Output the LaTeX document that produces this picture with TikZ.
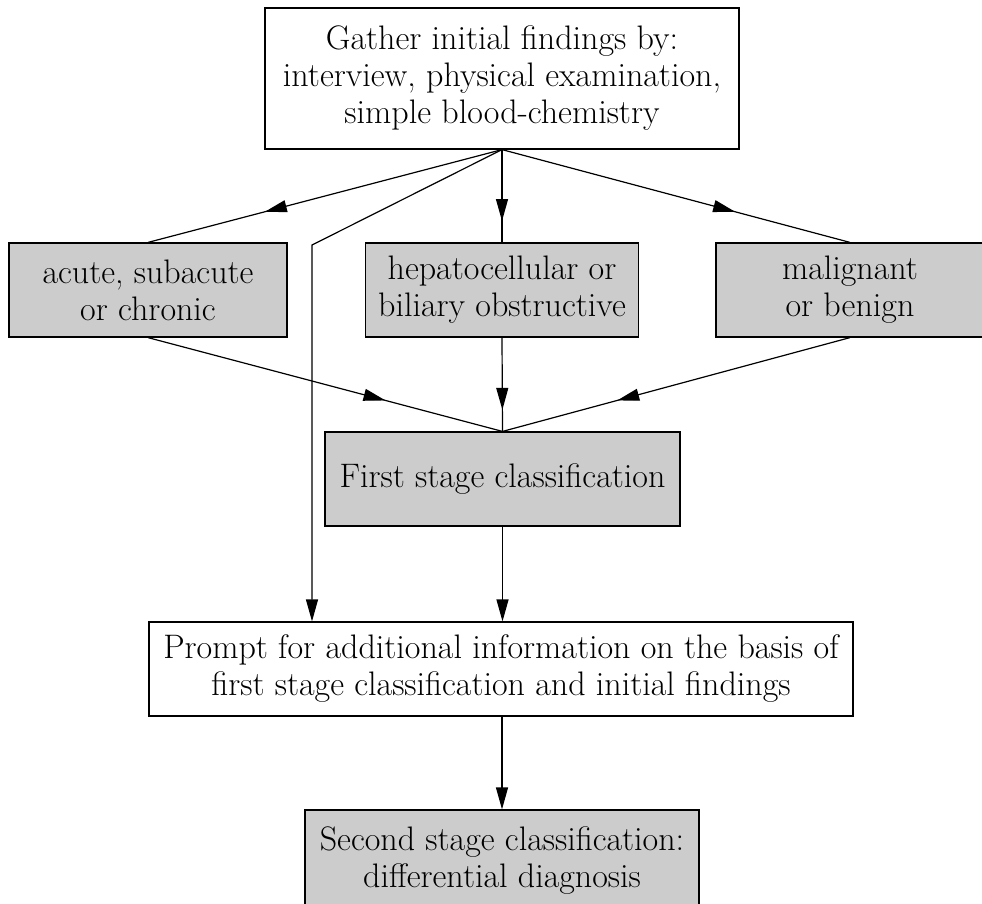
\documentclass[tikz,border=0pt]{standalone}
\usepackage{fontspec}
\usetikzlibrary{arrows.meta,decorations.markings}
\begin{document}
\begin{tikzpicture}[x=1pt,y=-1pt,
  every node/.style={font=\fontsize{34}{37}\selectfont},
  box/.style={draw=black,line width=1.2pt,inner sep=0pt,align=center,anchor=center},
  graybox/.style={box,fill=gray!40},
  tip/.style={-{Triangle[length=22pt,width=12pt]}},
  conn/.style={line width=1.2pt},
  midarrow/.style={conn,postaction={decorate},decoration={markings,
    mark=at position #1 with {\arrow{Triangle[length=22pt,width=12pt]}}}}
]
\useasboundingbox (0,0) rectangle (982,903);
\clip (0,0) rectangle (982,903);
\node[box,minimum width=474pt,minimum height=141pt] (top) at (502,78.5)
  {Gather initial findings by:\\ interview, physical examination,\\ simple blood-chemistry};
\node[graybox,minimum width=278pt,minimum height=94pt] (left) at (148,290)
  {acute, subacute\\ or chronic};
\node[graybox,minimum width=273pt,minimum height=94pt] (mid) at (502,290)
  {hepatocellular or\\ biliary obstructive};
\node[graybox,minimum width=268pt,minimum height=94pt] (right) at (850,290)
  {malignant\\ or benign};
\node[graybox,minimum width=355pt,minimum height=94pt] (first) at (502.5,479)
  {First stage classification};
\node[box,minimum width=704pt,minimum height=94pt] (prompt) at (501,669)
  {Prompt for additional information on the basis of\\ first stage classification and initial findings};
\node[graybox,minimum width=394pt,minimum height=102pt] (second) at (502,861)
  {Second stage classification:\\ differential diagnosis};
\coordinate (apex) at (top.south);
\coordinate (bend) at (312,245);
\coordinate (pin) at (prompt.north -| bend);
\draw[midarrow=0.67] (apex) -- (left.north);
\draw[midarrow=0.77] (apex) -- (mid.north);
\draw[midarrow=0.67] (apex) -- (right.north);
\draw[conn,tip] (apex) -- (bend) -- (pin);
\draw[midarrow=0.67] (left.south) -- (first.north);
\draw[midarrow=0.77] (mid.south) -- (first.north);
\draw[midarrow=0.67] (right.south) -- (first.north);
\draw[conn,tip] (first.south) -- (prompt.north -| first.south);
\draw[conn,tip] (prompt.south -| second.north) -- (second.north);
\end{tikzpicture}
\end{document}
